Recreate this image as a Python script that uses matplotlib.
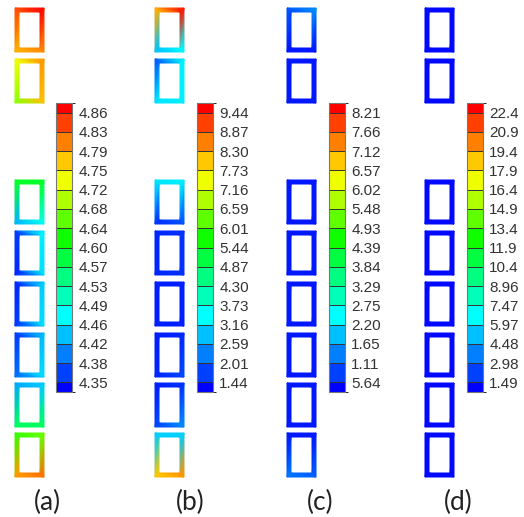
import matplotlib.pyplot as plt
import matplotlib.tri as mtri
import numpy as np
from matplotlib.cm import ScalarMappable
from matplotlib.colors import (BoundaryNorm, LinearSegmentedColormap,
                               ListedColormap, Normalize)

# colour bands of the legend, bottom -> top
band_colors = ["#0000ff", "#0040ff", "#0080ff", "#00c0ff", "#00ffff",
               "#00ffb8", "#00ff80", "#00ff40", "#10ff00", "#60ff00",
               "#b0ff00", "#f0ff00", "#ffc800", "#ff8000", "#ff4000",
               "#ff0000"]

# legend levels (bottom -> top) and the labels printed next to them
levels_a = [4.35, 4.38, 4.42, 4.46, 4.49, 4.53, 4.57, 4.60, 4.64, 4.68,
            4.72, 4.75, 4.79, 4.83, 4.86]
levels_b = [1.44, 2.01, 2.59, 3.16, 3.73, 4.30, 4.87, 5.44, 6.01, 6.59,
            7.16, 7.73, 8.30, 8.87, 9.44]
levels_c = [0.564, 1.11, 1.65, 2.20, 2.75, 3.29, 3.84, 4.39, 4.93, 5.48,
            6.02, 6.57, 7.12, 7.66, 8.21]
levels_d = [1.49, 2.98, 4.48, 5.97, 7.47, 8.96, 10.4, 11.9, 13.4, 14.9,
            16.4, 17.9, 19.4, 20.9, 22.4]

labels_a = ["4.35", "4.38", "4.42", "4.46", "4.49", "4.53", "4.57", "4.60",
            "4.64", "4.68", "4.72", "4.75", "4.79", "4.83", "4.86"]
labels_b = ["1.44", "2.01", "2.59", "3.16", "3.73", "4.30", "4.87", "5.44",
            "6.01", "6.59", "7.16", "7.73", "8.30", "8.87", "9.44"]
labels_c = ["5.64", "1.11", "1.65", "2.20", "2.75", "3.29", "3.84", "4.39",
            "4.93", "5.48", "6.02", "6.57", "7.12", "7.66", "8.21"]
labels_d = ["1.49", "2.98", "4.48", "5.97", "7.47", "8.96", "10.4", "11.9",
            "13.4", "14.9", "16.4", "17.9", "19.4", "20.9", "22.4"]

# corner values of every frame, top -> bottom: [TL, TR, BR, BL]
corners_a = [[4.83, 4.87, 4.80, 4.78],
             [4.73, 4.79, 4.77, 4.68],
             [4.60, 4.60, 4.49, 4.44],
             [4.37, 4.47, 4.46, 4.36],
             [4.36, 4.45, 4.46, 4.37],
             [4.37, 4.44, 4.46, 4.40],
             [4.43, 4.45, 4.57, 4.57],
             [4.64, 4.66, 4.81, 4.79]]
corners_b = [[8.2, 9.5, 3.4, 2.9],
             [2.0, 3.3, 3.3, 3.2],
             [3.2, 3.3, 1.9, 1.6],
             [1.5, 1.6, 1.6, 1.5],
             [1.44, 1.44, 1.44, 1.44],
             [1.44, 1.5, 1.8, 1.5],
             [1.44, 1.6, 2.4, 1.8],
             [3.0, 3.0, 8.4, 8.0]]
corners_c = [[1.0, 1.5, 0.5, 0.5],
             [0.5, 0.5, 0.5, 0.5],
             [0.5, 0.5, 0.5, 0.5],
             [0.5, 0.5, 0.5, 0.5],
             [0.5, 0.5, 0.5, 0.5],
             [0.5, 0.5, 0.5, 0.5],
             [0.5, 0.5, 0.5, 0.5],
             [0.5, 0.5, 1.1, 1.3]]
corners_d = [[1.0, 1.0, 1.0, 1.0]] * 8

captions = ["(a)", "(b)", "(c)", "(d)"]

panels = [(levels_a, labels_a, corners_a),
          (levels_b, labels_b, corners_b),
          (levels_c, labels_c, corners_c),
          (levels_d, labels_d, corners_d)]

# layout in pixels (figure is 524 x 517, y measured from the top)
W, H = 524, 517
rect_left = [15, 155, 287, 425]
rect_top = [8, 59, 180, 231, 282, 333, 383, 433]
rect_w, rect_h, thick = 29, 44, 4.0
cbar_left = [56, 197, 329, 467]
cbar_top, cbar_bot, cbar_w = 103, 392, 16
caption_x = [47, 190, 320, 458]
caption_y = 502

cont_cmap = LinearSegmentedColormap.from_list("bands", band_colors)
band_cmap = ListedColormap(band_colors)

fig = plt.figure(figsize=(W / 100, H / 100), dpi=100)
ax = fig.add_axes([0, 0, 1, 1])
ax.set_xlim(0, W)
ax.set_ylim(H, 0)
ax.axis("off")

# triangles of a rectangular frame: outer corners 0-3, inner corners 4-7
frame_tris = []
for k in range(4):
    n = (k + 1) % 4
    frame_tris.append([k, n, n + 4])
    frame_tris.append([k, n + 4, k + 4])

for p, (levels, labels, corners) in enumerate(panels):
    lv = np.array(levels)
    vmin = lv[0] - (lv[1] - lv[0]) / 2
    vmax = lv[-1] + (lv[-1] - lv[-2]) / 2
    norm = Normalize(vmin, vmax)

    for top, vals in zip(rect_top, corners):
        x0, x1 = rect_left[p], rect_left[p] + rect_w
        y0, y1 = top, top + rect_h
        xs = [x0, x1, x1, x0, x0 + thick, x1 - thick, x1 - thick, x0 + thick]
        ys = [y0, y0, y1, y1, y0 + thick, y0 + thick, y1 - thick, y1 - thick]
        tri = mtri.Triangulation(xs, ys, frame_tris)
        ax.tripcolor(tri, list(vals) + list(vals), cmap=cont_cmap,
                     norm=norm, shading="gouraud")

    ax.text(caption_x[p], caption_y, captions[p], ha="center", va="center",
            fontsize=19, family="Lato", color="#222222")

    # legend: equal bands, half bands at both ends, labels on the edges
    idx = np.arange(len(levels))
    bounds = np.concatenate([[-0.5], idx, [idx[-1] + 0.5]])
    cax = fig.add_axes([cbar_left[p] / W, 1 - cbar_bot / H, cbar_w / W,
                        (cbar_bot - cbar_top) / H])
    sm = ScalarMappable(norm=BoundaryNorm(bounds, len(band_colors)),
                        cmap=band_cmap)
    cb = fig.colorbar(sm, cax=cax, ticks=idx, spacing="proportional",
                      drawedges=True)
    cb.set_ticklabels(labels)
    cax.tick_params(length=0, pad=4.5, labelsize=11, labelcolor="#333333")
    for t in cax.get_yticklabels():
        t.set_family("Liberation Sans")
    cb.outline.set_edgecolor("#777777")
    cb.outline.set_linewidth(0.8)
    cb.dividers.set_color("#333333")
    cb.dividers.set_linewidth(0.7)

fig.savefig("out.png", dpi=100)
